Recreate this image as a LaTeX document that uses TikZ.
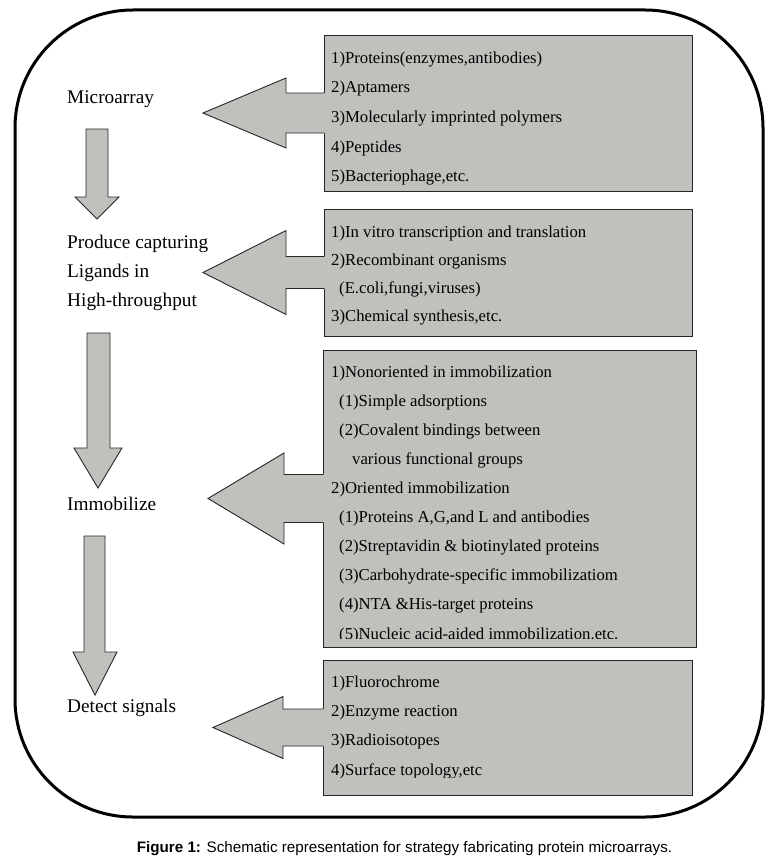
\documentclass[tikz,border=0pt]{standalone}
\usepackage{fontspec}
\setmainfont{Liberation Serif}
\newfontfamily\capfont{Liberation Sans}
\usetikzlibrary{calc}
\definecolor{boxgray}{RGB}{192,193,189}
\newcommand\lblock[5]{%
  \fill[boxgray] ($(#1.west)+(1.5,-#5)$) -- ($(#1.west)+(-#2+#3,-#5)$) -- ($(#1.west)+(-#2+#3,-#4)$) -- ($(#1.west)+(-#2,0)$) -- ($(#1.west)+(-#2+#3,#4)$) -- ($(#1.west)+(-#2+#3,#5)$) -- ($(#1.west)+(1.5,#5)$) -- cycle;
  \draw[gedge] ($(#1.west)+(0,-#5)$) -- ($(#1.west)+(-#2+#3,-#5)$) -- ($(#1.west)+(-#2+#3,-#4)$) -- ($(#1.west)+(-#2,0)$) -- ($(#1.west)+(-#2+#3,#4)$) -- ($(#1.west)+(-#2+#3,#5)$) -- ($(#1.west)+(0,#5)$);
}
\begin{document}
\begin{tikzpicture}[x=1pt,y=-1pt,
  gbox/.style={draw=black!85, line width=0.9pt, fill=boxgray, inner sep=0pt, outer sep=0pt, anchor=north west},
  gedge/.style={draw=black!85, line width=0.9pt, line join=miter},
  btxt/.style={anchor=base west, inner sep=0pt, font=\fontsize{16.7}{20}\selectfont},
  lbl/.style={anchor=base west, inner sep=0pt, font=\fontsize{19.3}{23}\selectfont}]
\useasboundingbox (0,0) rectangle (777,859);
\draw[line width=3pt, rounded corners=118pt] (15,10) rectangle (763,817);

% boxes
\node[gbox, minimum width=368pt, minimum height=156pt] (b1) at (324,35) {};
\node[gbox, minimum width=368pt, minimum height=127pt] (b2) at (324,209) {};
\node[gbox, minimum width=373pt, minimum height=297pt] (b3) at (323,350) {};
\node[gbox, minimum width=369pt, minimum height=135pt] (b4) at (323,660) {};

% left block arrows
\lblock{b1}{121}{83}{35}{20}
\lblock{b2}{121}{83}{42}{16}
\lblock{b3}{115}{76}{45.5}{24}
\lblock{b4}{110}{70}{31}{18.5}

% down block arrows
\draw[gedge, fill=boxgray] (86,129) -- (108,129) -- (108,197) -- (119,197) -- (97,219) -- (75,197) -- (86,197) -- cycle;
\draw[gedge, fill=boxgray] (87,333) -- (110,333) -- (110,448) -- (122,448) -- (98,488) -- (74,448) -- (87,448) -- cycle;
\draw[gedge, fill=boxgray] (84,536) -- (105,536) -- (105,652) -- (117,652) -- (95,695) -- (73,652) -- (84,652) -- cycle;

% left labels
\node[lbl] (m) at (67,103.5) {Microarray};
\node[lbl] (p1) at (67,248.3) {Produce capturing};
\node[lbl] (p2) at (67,277.3) {Ligands in};
\node[lbl] (p3) at (67,306) {High-throughput};
\node[lbl] (im) at (67,510.7) {Immobilize};
\node[lbl] (ds) at (67,712) {Detect signals};

% box 1 text
\node[btxt] (a1) at (331,63.3) {1)Proteins(enzymes,antibodies)};
\node[btxt] (a2) at (331,92.9) {2)Aptamers};
\node[btxt] (a3) at (331,122.5) {3)Molecularly imprinted polymers};
\node[btxt] (a4) at (331,152.1) {4)Peptides};
\node[btxt] (a5) at (331,181.7) {5)Bacteriophage,etc.};

% box 2 text
\node[btxt] (c1) at (331,237.3) {1)In vitro transcription and translation};
\node[btxt] (c2) at (331,265.4) {2)Recombinant organisms};
\node[btxt] (c3) at (339,293.5) {(E.coli,fungi,viruses)};
\node[btxt] (c4) at (331,321.7) {3)Chemical synthesis,etc.};

% box 3 text
\begin{scope}
\clip (323,350) rectangle (696,638.5);
\node[btxt] (d1) at (331,377.3) {1)Nonoriented in immobilization};
\node[btxt] (d2) at (339,406.4) {(1)Simple adsorptions};
\node[btxt] (d3) at (339,435.5) {(2)Covalent bindings between};
\node[btxt] (d4) at (352,464.5) {various functional groups};
\node[btxt] (d5) at (331,493.6) {2)Oriented immobilization};
\node[btxt] (d6) at (339,522.7) {(1)Proteins A,G,and L and antibodies};
\node[btxt] (d7) at (339,551.8) {(2)Streptavidin \& biotinylated proteins};
\node[btxt] (d8) at (339,580.9) {(3)Carbohydrate-specific immobilizatiom};
\node[btxt] (d9) at (339,609.9) {(4)NTA \&His-target proteins};
\node[btxt] (d10) at (339,639) {(5)Nucleic acid-aided immobilization.etc.};
\end{scope}

% box 4 text
\begin{scope}
\clip (323,660) rectangle (692,777);
\node[btxt] (e1) at (331,687.3) {1)Fluorochrome};
\node[btxt] (e2) at (331,716.5) {2)Enzyme reaction};
\node[btxt] (e3) at (331,745.7) {3)Radioisotopes};
\node[btxt] (e4) at (331,775) {4)Surface topology,etc};
\end{scope}

% caption
\node[anchor=base, inner sep=0pt, font=\capfont\fontsize{15.2}{17}\selectfont] (cap) at (404.5,852.5) {\textbf{Figure 1:} Schematic representation for strategy fabricating protein microarrays.};
\end{tikzpicture}
\end{document}
